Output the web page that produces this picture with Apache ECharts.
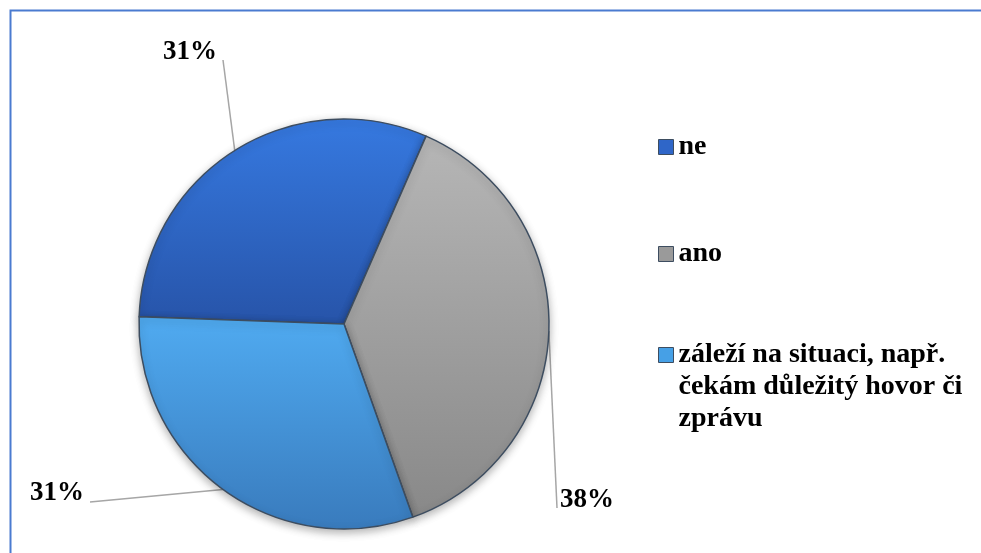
<!DOCTYPE html>
<html>
<head>
<meta charset="utf-8">
<script src="https://cdn.jsdelivr.net/npm/echarts@6/dist/echarts.min.js"></script>
<style>
html, body { margin: 0; padding: 0; background: #fff; }
#main { width: 981px; height: 553px; }
</style>
</head>
<body>
<div id="main"></div>
<script>
var categories = ['ne', 'ano', 'záleží na situaci, např. čekám důležitý hovor či zprávu'];//kategorie
var values = [31, 38, 31];//hodnoty (%)
var labelCenter = [[190, 52], [587, 500], [57, 493]];//pozice popisků
var lineEnd = [[33, 8], [-30, 8], [33, 9]];//konec vodicí čáry vůči popisku

var font = 'Liberation Serif, Times New Roman, serif';
var edge = '#3d4d60';

function grad(stops) {
    // svislý přechod přes celý koláč (globální souřadnice)
    return new echarts.graphic.LinearGradient(0, 119, 0, 529, stops, true);
}
var sliceColor = [
    grad([{offset: 0, color: '#3679e0'}, {offset: 0.5, color: '#2754a9'}]),
    grad([{offset: 0, color: '#b8b8b8'}, {offset: 1, color: '#878787'}]),
    grad([{offset: 0.5, color: '#4fa9ef'}, {offset: 1, color: '#397bbd'}])
];
var iconColor = ['#2f66c8', '#9a9a9a', '#46a0e6'];

var myChart = echarts.init(document.getElementById('main'));

var data = [];
for (var i = 0; i < categories.length; i++) {
    data.push({name: categories[i], value: values[i], itemStyle: {color: sliceColor[i]}});
}

function legendFor(i, top, wrap) {
    return {
        orient: 'vertical',
        left: 658,
        top: top,
        padding: 0,
        itemWidth: 15,
        itemHeight: 15,
        itemGap: 0,
        icon: 'rect',
        selectedMode: false,
        data: [{name: categories[i], itemStyle: {color: iconColor[i], borderColor: edge, borderWidth: 1}}],
        formatter: function (name) {
            if (!wrap) return name;
            // dva prázdné řádky nahoře => ikona u prvního řádku textu
            return '\n\n' + name.replace('např. ', 'např.\n').replace('či ', 'či\n');
        },
        textStyle: {fontFamily: font, fontWeight: 'bold', fontSize: 28, lineHeight: 32, color: '#000'}
    };
}

var option = {
    backgroundColor: '#fff',
    animation: false,
    graphic: [{
        type: 'rect',
        left: 8,
        top: 8,
        shape: {width: 1100, height: 700},
        style: {fill: null, stroke: '#4a7bd0', lineWidth: 2}
    }],
    legend: [
        legendFor(0, 131, false),
        legendFor(1, 238, false),
        legendFor(2, 275, true)
    ],
    series: [{
        type: 'pie',
        center: [344, 324],
        radius: 205,
        startAngle: 178,
        clockwise: true,
        percentPrecision: 0,
        data: data,
        itemStyle: {
            borderColor: edge,
            borderWidth: 1.5,
            shadowBlur: 8,
            shadowOffsetY: 3,
            shadowColor: 'rgba(0,0,0,0.3)'
        },
        label: {
            show: true,
            position: 'outside',
            formatter: '{d}%',
            fontFamily: font,
            fontWeight: 'bold',
            fontSize: 27,
            color: '#000'
        },
        labelLine: {
            show: true,
            lineStyle: {color: '#a6a6a6', width: 1.5}
        },
        labelLayout: function (params) {
            var c = labelCenter[params.dataIndex];
            var e = lineEnd[params.dataIndex];
            var a = params.labelLinePoints ? params.labelLinePoints[0] : c;
            var end = [c[0] + e[0], c[1] + e[1]];
            return {
                x: c[0],
                y: c[1],
                align: 'center',
                verticalAlign: 'middle',
                labelLinePoints: [a, a, end]
            };
        }
    }]
};
myChart.setOption(option);
</script>
</body>
</html>
